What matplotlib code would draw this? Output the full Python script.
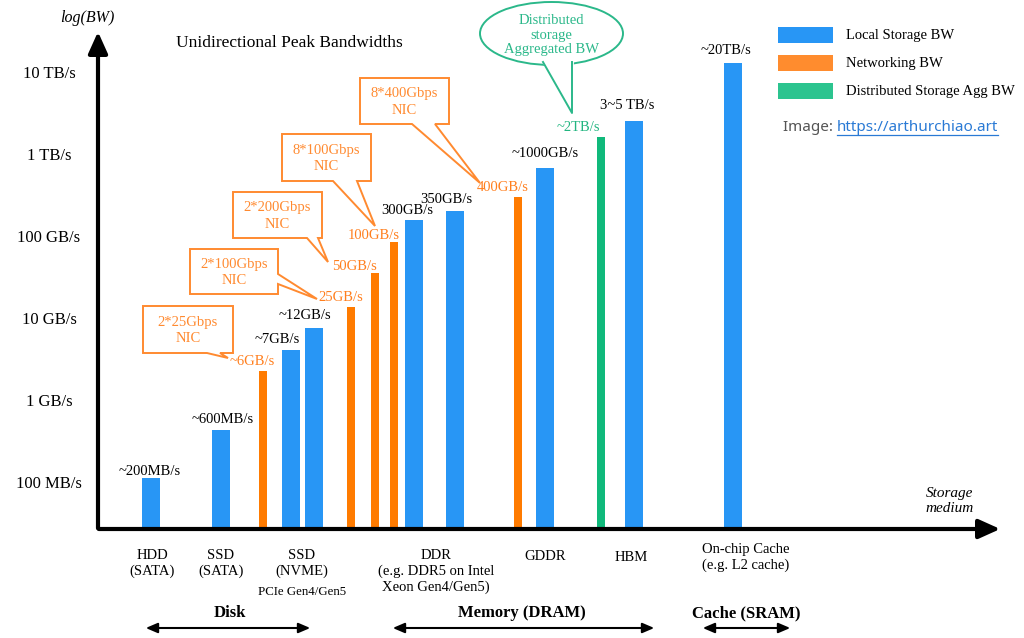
import matplotlib
matplotlib.use('Agg')
import matplotlib.pyplot as plt
from matplotlib.patches import Polygon, Ellipse, Rectangle, FancyArrowPatch
from matplotlib.lines import Line2D

# ---- data (bandwidth in GB/s) ----
bar_kind = ['local', 'local', 'net', 'local', 'local', 'net', 'net', 'net',
            'local', 'local', 'net', 'local', 'dist', 'local', 'local']
bw_gbs = [0.118, 0.456, 2.39, 4.31, 7.99, 14.4, 37.4, 89.4,
          166, 213, 316, 714, 1706, 2672, 13620]
bar_labels = ['~200MB/s', '~600MB/s', '~6GB/s', '~7GB/s', '~12GB/s', '25GB/s', '50GB/s', '100GB/s',
              '300GB/s', '350GB/s', '400GB/s', '~1000GB/s', '~2TB/s', '3~5 TB/s', '~20TB/s']
nic_texts = ['2*25Gbps\nNIC', '2*100Gbps\nNIC', '2*200Gbps\nNIC', '8*100Gbps\nNIC', '8*400Gbps\nNIC']
dist_text = 'Distributed\nstorage\nAggregated BW'
categories = ['HDD\n(SATA)', 'SSD\n(SATA)', 'SSD\n(NVME)', 'DDR\n(e.g. DDR5 on Intel\nXeon Gen4/Gen5)',
              'GDDR', 'HBM', 'On-chip Cache\n(e.g. L2 cache)']
groups = ['Disk', 'Memory (DRAM)', 'Cache (SRAM)']
tick_vals = [0.1, 1, 10, 100, 1000, 10000]
tick_labels = ['100 MB/s', '1 GB/s', '10 GB/s', '100 GB/s', '1 TB/s', '10 TB/s']
legend_labels = ['Local Storage BW', 'Networking BW', 'Distributed Storage Agg BW']

# ---- layout (pixel positions in a 1024x638 canvas) ----
W, H = 1024, 638
bar_x = [151, 221, 263, 291, 314, 351, 375, 393.5, 414, 455, 518, 545, 601, 634, 733]
lab_off = [(-1, 7), (2, 10), (-11, 9), (-14, 10), (-9, 12), (-10, 10), (-21, 7), (-20, 6),
           (-7, 9), (-9, 12), (-15, 10), (0, 14), (-23, 9), (-7, 15), (-7, 12)]
nic_boxes = [(143, 306, 233, 353, 'b', 207, 220, 228, 358),
             (190, 249, 278, 294, 'r', 274, 284, 317, 299),
             (233, 192, 322, 238, 'b', 307, 318, 328, 262),
             (282, 134, 371, 181, 'b', 333, 357, 375, 226),
             (360, 78, 449, 124, 'b', 412, 435, 480, 183)]
cat_pos = [(152, 549), (221, 549), (302, 549), (436, 549), (545, 550), (631, 551), (746, 543)]
group_pos = [(230, 143, 313), (522, 390, 657), (746, 700, 793)]

colors = {'local': '#2896F5', 'net': '#FF7B00', 'dist': '#10B97B'}
widths = {'local': 17.5, 'net': 8, 'dist': 8}
txt_col = {'local': 'black', 'net': '#FF7F1E', 'dist': '#22B580'}
orange = '#FF8A30'
green = '#2BB88A'

plt.rcParams['font.family'] = ['Liberation Serif', 'DejaVu Serif']


def P(x, y):
    return (x / W, 1 - y / H)


fig = plt.figure(figsize=(W / 100, H / 100), dpi=100)
ax = fig.add_axes([98 / W, 1 - 528 / H, 912 / W, 503 / H])
ax.set_yscale('log')
ax.set_xlim(98, 1010)
ymin = 0.1 * 10 ** (-44 / 82)
ax.set_ylim(ymin, 0.1 * 10 ** (459 / 82))
ax.axis('off')

for x, v, k, lbl, (dx, dy) in zip(bar_x, bw_gbs, bar_kind, bar_labels, lab_off):
    ax.bar(x, v - ymin, bottom=ymin, width=widths[k], color=colors[k], edgecolor='none')
    ax.annotate(lbl, xy=(x, v), xytext=(dx, dy), textcoords='offset pixels',
                ha='center', va='center', fontsize=10.5, color=txt_col[k])

for v, s in zip(tick_vals, tick_labels):
    ax.text(-49 / 912, v, s, transform=ax.get_yaxis_transform(), ha='center', va='center', fontsize=12)

# axes arrows
fig.add_artist(FancyArrowPatch(P(98, 531), P(98, 29), transform=fig.transFigure,
                               arrowstyle='-|>,head_length=1.0,head_width=0.45', mutation_scale=13,
                               lw=3, color='black'))
fig.add_artist(FancyArrowPatch(P(96, 529), P(1003, 529), transform=fig.transFigure,
                               arrowstyle='-|>,head_length=1.0,head_width=0.45', mutation_scale=13,
                               lw=3, color='black'))
fig.text(*P(87, 18), 'log(BW)', ha='center', va='center', style='italic', fontsize=11.5)
fig.text(*P(950, 501), 'Storage\nmedium', ha='center', va='center', style='italic', fontsize=11,
         linespacing=1.15)
fig.text(*P(289, 43), 'Unidirectional Peak Bandwidths', ha='center', va='center', fontsize=12.5)

# NIC callouts
for txt, (x0, y0, x1, y1, side, b1, b2, tx, ty) in zip(nic_texts, nic_boxes):
    if side == 'b':
        pts = [(x0, y0), (x1, y0), (x1, y1), (b2, y1), (tx, ty), (b1, y1), (x0, y1)]
    else:
        pts = [(x0, y0), (x1, y0), (x1, b1), (tx, ty), (x1, b2), (x1, y1), (x0, y1)]
    fig.add_artist(Polygon([P(*p) for p in pts], closed=True, transform=fig.transFigure,
                           fc='white', ec=orange, lw=1.4, joinstyle='miter'))
    fig.text(*P((x0 + x1) / 2, (y0 + y1) / 2 + 1), txt, ha='center', va='center',
             fontsize=10.5, color=orange, linespacing=1.35)

# distributed storage bubble
fig.add_artist(Ellipse(P(551.5, 33.5), 143 / W, 63 / H, transform=fig.transFigure,
                       fc='white', ec=green, lw=1.4))
fig.add_artist(Polygon([P(541, 60), P(572, 113), P(574, 60)], closed=True, transform=fig.transFigure,
                       fc='white', ec='none'))
fig.add_artist(Line2D([543 / W, 572 / W, 572 / W], [1 - 62 / H, 1 - 113 / H, 1 - 62 / H],
                      transform=fig.transFigure, color=green, lw=1.4))
fig.text(*P(551.5, 35), dist_text, ha='center', va='center', fontsize=10.5, color=green,
         linespacing=1.2)

# legend
leg_cols = [colors['local'], '#FF8C2E', '#2CC48F']
for i, (lab, c) in enumerate(zip(legend_labels, leg_cols)):
    y = 27 + 28 * i
    fig.add_artist(Rectangle(P(778, y + 16), 55 / W, 16 / H, transform=fig.transFigure,
                             fc=c, ec='none'))
    fig.text(*P(846, y + 8), lab, ha='left', va='center', fontsize=10.5)

t1 = fig.text(*P(783, 128), 'Image: ', ha='left', va='center', fontsize=11, color='#555555',
              family='Noto Sans')
fig.canvas.draw()
bb = t1.get_window_extent()
t2 = fig.text(bb.x1 / W, 1 - 128 / H, 'https://arthurchiao.art', ha='left', va='center',
              fontsize=11, color='#2A7AD5', family='Noto Sans')
fig.canvas.draw()
bb2 = t2.get_window_extent()
fig.add_artist(Line2D([bb2.x0 / W, bb2.x1 / W], [(bb2.y0 + 1) / H] * 2,
                      transform=fig.transFigure, color='#2A7AD5', lw=0.9))

# categories and groups
for lbl, (x, y) in zip(categories, cat_pos):
    fig.text(*P(x, y), lbl, ha='center', va='top', fontsize=10.5, linespacing=1.25)
fig.text(*P(302, 592), 'PCIe Gen4/Gen5', ha='center', va='center', fontsize=9.3)
for g, (cx, a0, a1) in zip(groups, group_pos):
    fig.text(*P(cx, 613), g, ha='center', va='center', fontsize=12, weight='bold')
    fig.add_artist(FancyArrowPatch(P(a0, 628), P(a1, 628), transform=fig.transFigure,
                                   arrowstyle='<|-|>,head_length=0.7,head_width=0.3',
                                   mutation_scale=10, lw=1.5, color='black'))

fig.savefig('out.png', dpi=100, facecolor='white')
